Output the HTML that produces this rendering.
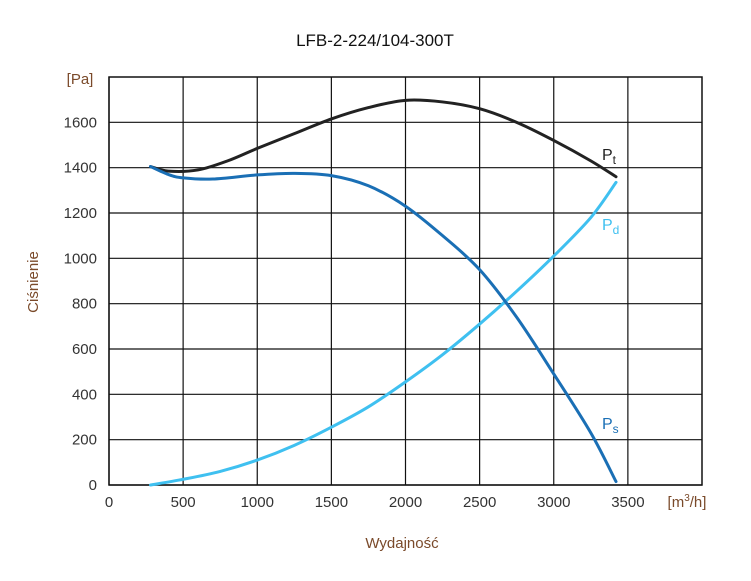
<!DOCTYPE html>
<html><head><meta charset="utf-8"><style>
body{margin:0;background:#fff;width:751px;height:576px;overflow:hidden}
svg text{font-family:"Liberation Sans",sans-serif}
</style></head><body>
<svg id="chart" width="751" height="576" xmlns="http://www.w3.org/2000/svg">
<text x="375" y="46" text-anchor="middle" font-size="17" fill="#111">LFB-2-224/104-300T</text>
<g id="grid"></g>
<g id="ticks"></g>
<text x="80" y="84" text-anchor="middle" font-size="15" fill="#7a4a2a">[Pa]</text>
<text x="687" y="507" text-anchor="middle" font-size="15" fill="#7a4a2a">[m<tspan font-size="10" dy="-6">3</tspan><tspan dy="6">/h]</tspan></text>
<text transform="translate(38,282) rotate(-90)" text-anchor="middle" font-size="15" fill="#7a4a2a">Ciśnienie</text>
<text x="402" y="548" text-anchor="middle" font-size="15" fill="#7a4a2a">Wydajność</text>
<g id="series"></g>
<text x="602" y="160" font-size="16" fill="#222">P<tspan font-size="12" dy="4">t</tspan></text>
<text x="602" y="230" font-size="16" fill="#3fc0f0">P<tspan font-size="12" dy="4">d</tspan></text>
<text x="602" y="429" font-size="16" fill="#1a6fb5">P<tspan font-size="12" dy="4">s</tspan></text>
</svg>
<script>
const xTicks=[0,500,1000,1500,2000,2500,3000,3500];
const yTicks=[0,200,400,600,800,1000,1200,1400,1600];
const ptX=[280,400,600,800,1000,1250,1500,1750,2000,2250,2500,2750,3000,3250,3420];
const ptY=[1405,1385,1390,1430,1485,1550,1615,1665,1697,1690,1660,1600,1520,1430,1360];
const psX=[280,400,500,700,1000,1250,1500,1750,2000,2250,2500,2750,3000,3250,3420];
const psY=[1405,1370,1355,1350,1368,1375,1365,1320,1230,1100,950,740,490,230,15];
const pdX=[280,500,750,1000,1250,1500,1750,2000,2250,2500,2750,3000,3250,3420];
const pdY=[0,25,60,110,175,255,345,455,575,710,855,1010,1180,1335];
const L=109,R=702,T=77,B=485,XMAX=4000,YMAX=1800;
const sx=v=>L+v/XMAX*(R-L), sy=v=>B-v/YMAX*(B-T);
const NS="http://www.w3.org/2000/svg";
function mk(tag,attrs,parent){const e=document.createElementNS(NS,tag);for(const k in attrs)e.setAttribute(k,attrs[k]);parent.appendChild(e);return e;}
const grid=document.getElementById('grid'),ticks=document.getElementById('ticks'),series=document.getElementById('series');
const frame=mk('rect',{x:L,y:T,width:R-L,height:B-T,fill:'none',stroke:'#111','stroke-width':1.5},grid);


xTicks.forEach(v=>{
 const l=mk('line',{x1:sx(v),x2:sx(v),y1:T,y2:B,stroke:'#111','stroke-width':1.2},grid);
 
 
 const t=mk('text',{x:sx(v),y:507,'text-anchor':'middle','font-size':15,fill:'#333'},ticks);
 t.textContent=v;
 
 
});
yTicks.forEach(v=>{
 const l=mk('line',{x1:L,x2:R,y1:sy(v),y2:sy(v),stroke:'#111','stroke-width':1.2},grid);
 
 
 const t=mk('text',{x:97,y:sy(v)+5,'text-anchor':'end','font-size':15,fill:'#333'},ticks);
 t.textContent=v;
 
 
});
function curve(xs,ys){
 const p=xs.map((x,i)=>[sx(x),sy(ys[i])]);
 let d='M'+p[0][0]+','+p[0][1];
 for(let i=0;i<p.length-1;i++){
  const p0=p[i-1]||p[i],p1=p[i],p2=p[i+1],p3=p[i+2]||p2;
  const c1=[p1[0]+(p2[0]-p0[0])/6,p1[1]+(p2[1]-p0[1])/6],c2=[p2[0]-(p3[0]-p1[0])/6,p2[1]-(p3[1]-p1[1])/6];
  d+=' C'+c1+' '+c2+' '+p2;
 }
 return d;
}
const a=mk('path',{d:curve(pdX,pdY),fill:'none',stroke:'#3fc0f0','stroke-width':3,'stroke-linecap':'round'},series);


const b=mk('path',{d:curve(ptX,ptY),fill:'none',stroke:'#222','stroke-width':3,'stroke-linecap':'round'},series);


const c=mk('path',{d:curve(psX,psY),fill:'none',stroke:'#1a6fb5','stroke-width':3,'stroke-linecap':'round'},series);


</script>
</body></html>
